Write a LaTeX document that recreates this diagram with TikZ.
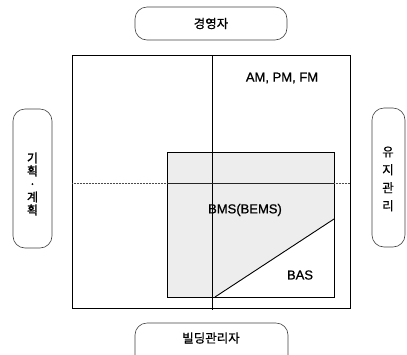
\documentclass[tikz,border=0pt]{standalone}
\usepackage{fontspec}
\setmainfont{Liberation Sans}
\newfontfamily\lat{Liberation Sans}[FakeBold=0.8]
\newfontfamily\kr{Noto Sans CJK KR}[FakeBold=0.7]
\newfontfamily\krb{Noto Sans CJK KR}[FakeBold=1.6]
\begin{document}
\begin{tikzpicture}[x=1pt,y=-1pt,
  rbox/.style={draw=black!75,line width=0.6pt,rounded corners=12pt,inner sep=0pt},
  lbl/.style={font=\lat\fontsize{13}{15}\selectfont,inner sep=0pt},
  krl/.style={font=\kr\fontsize{12.5}{14}\selectfont,inner sep=0pt},
  frame/.style={draw=black,line width=0.9pt}]
\useasboundingbox (0,0) rectangle (407,354);
\clip (0,0) rectangle (407,354);
% shaded inner region
\fill[black!7] (167,152) -- (334,152) -- (334,219) -- (215,297) -- (167,297) -- cycle;
% outer frame
\draw[frame] (72,55) rectangle (350,308);
% inner box
\draw[frame] (167,152) rectangle (334,297);
% vertical divider
\coordinate (vt) at (212,55);
\coordinate (vb) at (212,310);
\draw[line width=0.9pt] (vt) -- (vb);
% horizontal divider
\coordinate (hl) at (72,183);
\coordinate (hil) at (167,183);
\coordinate (hir) at (334,183);
\coordinate (hr) at (350,183);
\draw[black!70,line width=0.5pt,densely dotted] (hl) -- (hil);
\draw[black!70,line width=0.5pt,densely dotted] (hir) -- (hr);
\draw[black!85,line width=0.7pt] (hil) -- (hir);
% diagonal
\coordinate (d1) at (215,297);
\coordinate (d2) at (334,219);
\draw[line width=0.9pt] (d1) -- (d2);
% labels
\node[lbl] (am) at (282,78) {AM, PM, FM};
\node[lbl] (bms) at (245,210) {BMS(BEMS)};
\node[lbl] (bas) at (300,275) {BAS};
% rounded boxes
\node[rbox,minimum width=152pt,minimum height=33pt] (top) at (211,23.5) {};
\node[krl] at (top) {경영자};
\node[rbox,minimum width=153pt,minimum height=50pt] (bot) at (211.5,348) {};
\node[krl] at (211,338) {빌딩관리자};
\node[rbox,minimum width=39pt,minimum height=139pt] (left) at (32.5,178.5) {};
\node[krl,font=\krb\fontsize{12}{14}\selectfont,align=center] at (32.5,184) {기\\[-1pt]획\\[-1pt]·\\[-1pt]계\\[-1pt]획};
\node[rbox,minimum width=33pt,minimum height=139pt] (right) at (388.5,177.5) {};
\node[krl,align=center] at (388,179) {유\\[4pt]지\\[4pt]관\\[4pt]리};
\end{tikzpicture}
\end{document}
